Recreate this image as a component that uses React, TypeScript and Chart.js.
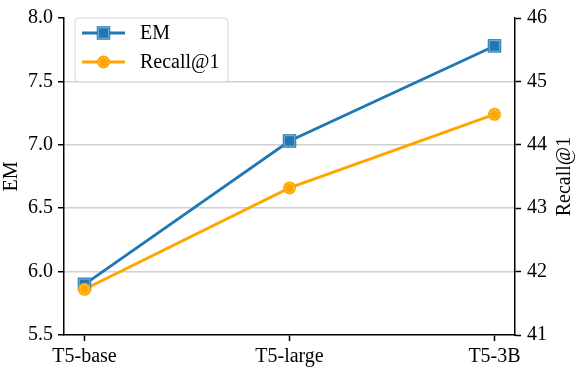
import React, { useEffect, useRef } from "react";
import { Chart, registerables } from "chart.js";

Chart.register(...registerables);

const categories = ["T5-base", "T5-large", "T5-3B"];
const emValues = [5.9, 7.03, 7.78];
const recallValues = [41.72, 43.32, 44.48];
const leftTicks = [5.5, 6.0, 6.5, 7.0, 7.5, 8.0];
const rightTicks = [41, 42, 43, 44, 45, 46];

const BLUE = "#1f77b4";
const ORANGE = "#ffa500";
const FONT = "'Liberation Serif', 'DejaVu Serif', serif";

function drawMarker(ctx: CanvasRenderingContext2D, kind: string, x: number, y: number) {
  ctx.save();
  if (kind === "rect") {
    const s = 13.5;
    ctx.fillStyle = BLUE;
    ctx.fillRect(x - s / 2, y - s / 2, s, s);
    ctx.strokeStyle = "rgba(255,255,255,0.45)";
    ctx.lineWidth = 1;
    ctx.strokeRect(x - s / 2 + 1.5, y - s / 2 + 1.5, s - 3, s - 3);
  } else {
    ctx.fillStyle = ORANGE;
    ctx.beginPath();
    ctx.arc(x, y, 6.5, 0, Math.PI * 2);
    ctx.fill();
    ctx.strokeStyle = "rgba(255,255,255,0.6)";
    ctx.setLineDash([1.5, 1.5]);
    ctx.lineWidth = 1;
    ctx.beginPath();
    ctx.arc(x, y, 4.5, 0, Math.PI * 2);
    ctx.stroke();
  }
  ctx.restore();
}

const customPlugin = {
  id: "custom",
  afterDatasetsDraw(chart: any) {
    const ctx: CanvasRenderingContext2D = chart.ctx;
    chart.data.datasets.forEach((ds: any, i: number) => {
      const meta = chart.getDatasetMeta(i);
      meta.data.forEach((pt: any) => drawMarker(ctx, ds._marker, pt.x, pt.y));
    });
  },
  afterDraw(chart: any) {
    const ctx: CanvasRenderingContext2D = chart.ctx;
    const area = chart.chartArea;
    ctx.save();
    const bx = 75, by = 18, bw = 153, bh = 64, r = 4;
    ctx.beginPath();
    ctx.moveTo(bx + r, by);
    ctx.lineTo(bx + bw - r, by);
    ctx.quadraticCurveTo(bx + bw, by, bx + bw, by + r);
    ctx.lineTo(bx + bw, by + bh - r);
    ctx.quadraticCurveTo(bx + bw, by + bh, bx + bw - r, by + bh);
    ctx.lineTo(bx + r, by + bh);
    ctx.quadraticCurveTo(bx, by + bh, bx, by + bh - r);
    ctx.lineTo(bx, by + r);
    ctx.quadraticCurveTo(bx, by, bx + r, by);
    ctx.closePath();
    ctx.fillStyle = "rgba(255,255,255,0.8)";
    ctx.fill();
    ctx.strokeStyle = "#d6d6d6";
    ctx.lineWidth = 1;
    ctx.stroke();

    const entries = [
      { label: "EM", color: BLUE, marker: "rect", y: 33 },
      { label: "Recall@1", color: ORANGE, marker: "circle", y: 62 },
    ];
    entries.forEach((e) => {
      ctx.strokeStyle = e.color;
      ctx.lineWidth = 2.8;
      ctx.beginPath();
      ctx.moveTo(82, e.y);
      ctx.lineTo(125, e.y);
      ctx.stroke();
      drawMarker(ctx, e.marker, 103.5, e.y);
      ctx.fillStyle = "#000";
      ctx.font = `20px ${FONT}`;
      ctx.textAlign = "left";
      ctx.textBaseline = "middle";
      ctx.fillText(e.label, 140, e.y + 1);
    });

    const cy = (area.top + area.bottom) / 2;
    ctx.fillStyle = "#000";
    ctx.font = `20px ${FONT}`;
    ctx.textAlign = "center";
    ctx.textBaseline = "middle";
    ctx.save();
    ctx.translate(12, cy);
    ctx.rotate(-Math.PI / 2);
    ctx.fillText("EM", 0, 0);
    ctx.restore();
    ctx.save();
    ctx.translate(565, cy);
    ctx.rotate(-Math.PI / 2);
    ctx.fillText("Recall@1", 0, 0);
    ctx.restore();
    ctx.restore();
  },
};

export default function App() {
  const ref = useRef<HTMLCanvasElement>(null);
  useEffect(() => {
    document.body.style.margin = "0";
    if (!ref.current) return;
    const chart = new Chart(ref.current, {
      type: "line",
      data: {
        datasets: [
          {
            label: "EM",
            data: emValues.map((v, i) => ({ x: i, y: v })),
            borderColor: BLUE,
            backgroundColor: BLUE,
            borderWidth: 2.8,
            pointRadius: 0,
            tension: 0,
            yAxisID: "y",
            order: 1,
            _marker: "rect",
          } as any,
          {
            label: "Recall@1",
            data: recallValues.map((v, i) => ({ x: i, y: v })),
            borderColor: ORANGE,
            backgroundColor: ORANGE,
            borderWidth: 2.8,
            pointRadius: 0,
            tension: 0,
            yAxisID: "y1",
            order: 0,
            _marker: "circle",
          } as any,
        ],
      },
      options: {
        responsive: false,
        animation: false,
        layout: { padding: { top: 10, left: 0, right: 0, bottom: 0 } },
        plugins: { legend: { display: false }, tooltip: { enabled: false } },
        scales: {
          x: {
            type: "linear",
            min: -0.1,
            max: 2.1,
            afterBuildTicks: (s: any) => {
              s.ticks = categories.map((_, i) => ({ value: i }));
            },
            afterFit: (s: any) => {
              s.height = 35;
            },
            ticks: {
              callback: (v: any) => categories[Math.round(Number(v))] ?? "",
              color: "#000",
              font: { family: FONT, size: 20 },
              padding: 4,
              maxRotation: 0,
              autoSkip: false,
            },
            grid: {
              drawOnChartArea: false,
              drawTicks: true,
              tickLength: 6,
              tickColor: "#000",
              tickWidth: 1.5,
            },
            border: { color: "#000", width: 1.5 },
          },
          y: {
            type: "linear",
            position: "left",
            min: 5.5,
            max: 8.0,
            afterBuildTicks: (s: any) => {
              s.ticks = leftTicks.map((v) => ({ value: v }));
            },
            afterFit: (s: any) => {
              s.width = 64;
            },
            ticks: {
              callback: (v: any) => Number(v).toFixed(1),
              color: "#000",
              font: { family: FONT, size: 20 },
              padding: 5,
            },
            grid: {
              color: (c: any) =>
                c.tick && (c.tick.value === 8 || c.tick.value === 5.5)
                  ? "rgba(0,0,0,0)"
                  : "rgba(176,176,176,0.6)",
              lineWidth: 1.5,
              drawTicks: true,
              tickLength: 6,
              tickColor: "#000",
              tickWidth: 1.5,
            },
            border: { color: "#000", width: 1.5 },
          },
          y1: {
            type: "linear",
            position: "right",
            min: 41,
            max: 46,
            afterBuildTicks: (s: any) => {
              s.ticks = rightTicks.map((v) => ({ value: v }));
            },
            afterFit: (s: any) => {
              s.width = 61;
            },
            ticks: {
              color: "#000",
              font: { family: FONT, size: 20 },
              padding: 6,
            },
            grid: {
              drawOnChartArea: false,
              drawTicks: true,
              tickLength: 6,
              tickColor: "#000",
              tickWidth: 1.5,
            },
            border: { color: "#000", width: 1.5 },
          },
        },
      },
      plugins: [customPlugin],
    });
    return () => chart.destroy();
  }, []);
  return (
    <div style={{ width: 576, height: 370 }}>
      <canvas ref={ref} width={576} height={370} />
    </div>
  );
}
